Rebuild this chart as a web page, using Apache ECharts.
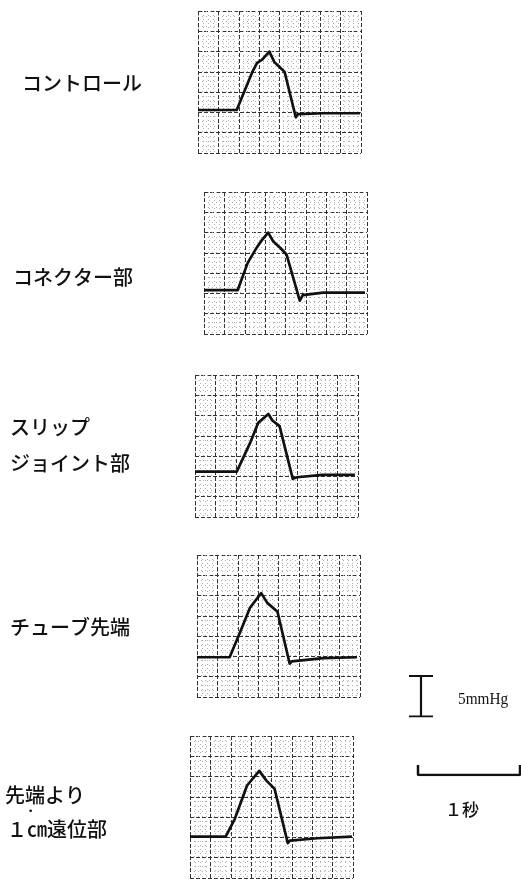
<!DOCTYPE html>
<html>
<head>
<meta charset="utf-8">
<script src="https://cdn.jsdelivr.net/npm/echarts@6/dist/echarts.min.js"></script>
<style>
html, body { margin: 0; padding: 0; background: #fff; }
#picture1 { width: 521px; height: 879px; }
</style>
</head>
<body>
<div id="picture1"></div>
<script>
// 圧波形 (時間 s, 圧 mmHg)
var control   = [[0,5.3],[0.38,5.3],[0.53,9.9],[0.58,11.1],[0.63,11.5],[0.70,12.5],[0.75,11.2],[0.80,10.6],[0.85,10.0],[0.96,4.4],[0.98,4.8],[1.23,4.9],[1.59,4.9]];
var connector = [[0,5.4],[0.33,5.4],[0.43,8.8],[0.52,10.7],[0.57,11.6],[0.63,12.5],[0.68,11.4],[0.75,10.6],[0.81,9.8],[0.94,4.1],[0.97,4.8],[1.17,5.1],[1.58,5.1]];
var slipJoint = [[0,5.6],[0.41,5.6],[0.54,9.1],[0.62,11.6],[0.72,12.7],[0.76,11.9],[0.83,11.2],[0.96,4.7],[1.00,4.9],[1.25,5.2],[1.57,5.2]];
var tubeTip   = [[0,4.9],[0.32,4.9],[0.42,7.9],[0.52,11.0],[0.63,12.8],[0.69,11.6],[0.79,10.5],[0.91,4.1],[0.93,4.4],[1.24,4.8],[1.57,4.9]];
var distal1cm = [[0,5.1],[0.35,5.1],[0.44,7.3],[0.56,11.4],[0.68,13.2],[0.75,12.0],[0.83,11.0],[0.96,4.3],[0.98,4.6],[1.25,4.9],[1.59,5.1]];

var traces = [control, connector, slipJoint, tubeTip, distal1cm];

// 目盛り (記録紙)
var timeMax = 1.6, timeStep = 0.2;
var pressMax = 17.5, pressStep = 2.5;

// スケールバー
var pressureBar = [[-1,5],[1,5],[0,5],[0,0],[-1,0],[1,0]];   // 5mmHg
var timeBar = [[0,1],[0,0],[1,0],[1,1]];                      // 1秒

var panelPos = [
    {left: 198, top: 11},
    {left: 204, top: 192},
    {left: 195, top: 375},
    {left: 197, top: 555},
    {left: 190, top: 736}
];

var labelText = [
    {text: 'コントロール', x: 22, y: 83},
    {text: 'コネクター部', x: 13, y: 277},
    {text: 'スリップ', x: 10, y: 427},
    {text: 'ジョイント部', x: 10, y: 463},
    {text: 'チューブ先端', x: 10, y: 627},
    {text: '先端より', x: 5, y: 795},
    {text: '１㎝遠位部', x: 7, y: 829}
];

function hiddenAxis(idx, min, max) {
    return {
        gridIndex: idx, type: 'value', min: min, max: max,
        show: false, splitLine: {show: false}
    };
}

function paperAxis(idx, max, step) {
    return {
        gridIndex: idx, type: 'value', min: 0, max: max, interval: step,
        axisLine: {show: false}, axisTick: {show: false}, axisLabel: {show: false},
        splitLine: {show: true, lineStyle: {color: '#333', type: [4, 2], width: 1}},
        minorTick: {show: false, splitNumber: 5},
        minorSplitLine: {show: true, lineStyle: {color: '#b0b0b0', type: [1, 4], width: 1}}
    };
}

var grid = [], xAxis = [], yAxis = [], series = [];
for (var i = 0; i < traces.length; i++) {
    grid.push({left: panelPos[i].left, top: panelPos[i].top, width: 163, height: 142});
    xAxis.push(paperAxis(i, timeMax, timeStep));
    yAxis.push(paperAxis(i, pressMax, pressStep));
    series.push({
        type: 'line', xAxisIndex: i, yAxisIndex: i, data: traces[i],
        showSymbol: false, silent: true,
        lineStyle: {color: '#111', width: 2.7, join: 'round'}
    });
}

// 5mmHg バー
grid.push({left: 409, top: 676, width: 24, height: 40.5});
xAxis.push(hiddenAxis(5, -1, 1));
yAxis.push(hiddenAxis(5, 0, 5));
series.push({type: 'line', xAxisIndex: 5, yAxisIndex: 5, data: pressureBar,
    showSymbol: false, lineStyle: {color: '#111', width: 2.2}});

// 1秒 バー
grid.push({left: 418, top: 765, width: 102, height: 10});
xAxis.push(hiddenAxis(6, 0, 1));
yAxis.push(hiddenAxis(6, 0, 1));
series.push({type: 'line', xAxisIndex: 6, yAxisIndex: 6, data: timeBar,
    showSymbol: false, lineStyle: {color: '#111', width: 2.5}});

var graphic = labelText.map(function (l) {
    return {
        type: 'text', x: l.x, y: l.y,
        style: {text: l.text, fill: '#111', font: '500 20px "Noto Sans CJK JP"', textVerticalAlign: 'middle'}
    };
});
graphic.push({type: 'text', x: 28, y: 812,
    style: {text: '•', fill: '#111', font: '9px "DejaVu Sans"', textVerticalAlign: 'middle'}});
graphic.push({type: 'text', x: 458, y: 700, scaleX: 0.9,
    style: {text: '5mmHg', fill: '#111', font: '17px "Liberation Serif"', textVerticalAlign: 'middle'}});
graphic.push({type: 'text', x: 445, y: 810,
    style: {text: '１秒', fill: '#111', font: '500 17px "Noto Sans CJK JP"', textVerticalAlign: 'middle'}});

var myChart1 = echarts.init(document.getElementById('picture1'));
myChart1.setOption({
    animation: false,
    backgroundColor: '#fff',
    grid: grid,
    xAxis: xAxis,
    yAxis: yAxis,
    series: series,
    graphic: graphic
});
</script>
</body>
</html>
